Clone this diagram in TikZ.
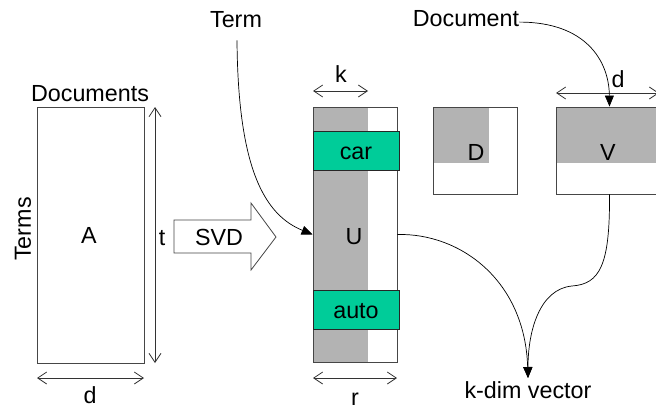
\documentclass[tikz,border=0pt]{standalone}
\usepackage{fontspec}
\setmainfont{Liberation Sans}
\usetikzlibrary{arrows.meta,calc}

\definecolor{cellgray}{RGB}{179,179,179}
\definecolor{rowgreen}{RGB}{0,204,153}
\definecolor{frame}{RGB}{70,70,70}

\begin{document}
\begin{tikzpicture}[x=1pt,y=-1pt,
  every node/.style={font=\fontsize{23.3}{26}\selectfont, inner sep=0pt},
  lbl/.style={anchor=base},
  matbox/.style={draw=frame, line width=0.9pt, minimum width=#1, inner sep=0pt},
  rowbox/.style={draw=black!85, fill=rowgreen, line width=0.8pt, minimum width=86, minimum height=39},
  dimline/.style={draw=black!80, line width=0.8pt, {Straight Barb[length=9pt,width=12pt]}-{Straight Barb[length=9pt,width=12pt]}},
  link/.style={draw=black, line width=0.7pt, -{Triangle[length=11pt,width=9pt]}}
]
\clip (0,0) rectangle (656,412);
\fill[white] (0,0) rectangle (656,412);

% matrix A
\node[matbox=107, minimum height=256] (A) at (90.5,235) {};
\node[lbl] (Alab) at (89,243) {A};
\node[lbl] (docs) at (90,101) {Documents};
\node[rotate=90] (terms) at (23,229) {Terms};
\coordinate (tT) at (155,107);
\coordinate (tB) at (155,363);
\draw[dimline] (tT) -- (tB);
\node[lbl] (tlab) at (162,245) {t};
\coordinate (dL) at (37,378);
\coordinate (dR) at (144,378);
\draw[dimline] (dL) -- (dR);
\node[lbl] (dlab) at (90,403) {d};

% SVD block arrow
\draw[frame, line width=0.8pt, fill=white]
  (174,220) -- (251,220) -- (251,203) -- (276,237) -- (251,270) -- (251,253) -- (174,253) -- cycle;
\node[lbl] (svd) at (219,245) {SVD};

% matrix U with its first k columns shaded
\fill[cellgray] (313,107) rectangle (368,362);
\node[matbox=84, minimum height=255] (U) at (355,234.5) {};
\node[rowbox] (car) at (356,150.5) {};
\node[lbl] at (356,159) {car};
\node[rowbox] (auto) at (356,309.5) {};
\node[lbl] at (356,318) {auto};
\node[lbl] (Ulab) at (354,244) {U};
\coordinate (kL) at (313,91);
\coordinate (kR) at (368,91);
\draw[dimline] (kL) -- (kR);
\node[lbl] (klab) at (341,83) {k};
\coordinate (rL) at (313,378);
\coordinate (rR) at (397,378);
\draw[dimline] (rL) -- (rR);
\node[lbl] (rlab) at (355,405) {r};

% matrix D
\fill[cellgray] (433,107) rectangle (489,163);
\node[matbox=84, minimum height=87] (D) at (475,150.5) {};
\node[lbl] (Dlab) at (476,160) {D};

% matrix V
\fill[cellgray] (556,107) rectangle (663,163);
\node[matbox=107, minimum height=87] (V) at (609.5,150.5) {};
\node[lbl] (Vlab) at (608,160) {V};
\coordinate (vdL) at (556,93);
\coordinate (vdR) at (659,93);
\draw[dimline] (vdL) -- (vdR);
\node[lbl] (vdlab) at (618,88) {d};

% labels and links
\node[lbl] (term) at (236,28) {Term};
\node[lbl] (doc) at (466,27) {Document};
\node[lbl] (kvec) at (528,398) {k-dim vector};
\coordinate (kv) at (528,378);
\coordinate (bend) at (572,286);

\draw[link] ($(term.south)+(1,12)$) .. controls (238,170) and (265,215) .. (U.west);
\draw[link] ($(doc.east)+(0,3)$) .. controls (585,22) and (609,60) .. (V.north);
\draw[link] (U.east) .. controls (460,233) and (525,280) .. (kv);
\draw[link] (V.south) .. controls (610,265) and (600,284) .. (bend)
  .. controls (540,289) and (528,330) .. (kv);
\end{tikzpicture}
\end{document}
